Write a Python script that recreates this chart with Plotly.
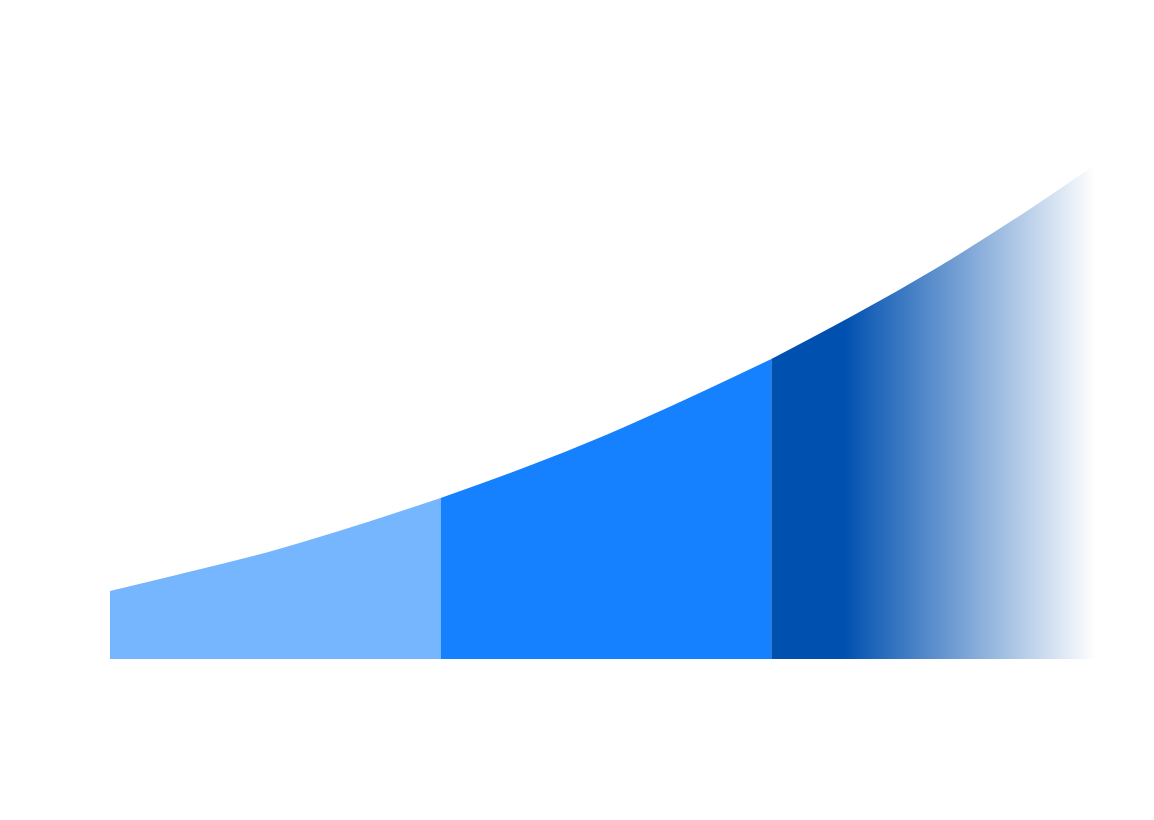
import plotly.graph_objs as go

# curve, x in segment units, height in px-like units
x_vals = [0, 0.25, 0.5, 0.75, 1.0, 1.25, 1.5, 1.75, 2.0, 2.25, 2.5, 2.75, 3.0]
y_vals = [68, 88, 109, 134, 161, 191, 224, 261, 300, 344, 391, 443, 499]

seg_bounds = [(0, 1.0), (1.0, 2.0), (2.0, 3.0)]
seg_colors = ['#76B6FF', '#1681FF', '#0050B0']

data = []
for i, (lo, hi) in enumerate(seg_bounds):
    xs = [x for x in x_vals if lo <= x <= hi]
    ys = [y for x, y in zip(x_vals, y_vals) if lo <= x <= hi]
    trace = dict(x=xs, y=ys, mode='lines', fill='tozeroy',
                 line=dict(width=0, shape='spline', smoothing=1.0),
                 hoverinfo='skip', showlegend=False)
    if i < 2:
        trace['fillcolor'] = seg_colors[i]
    else:
        trace['fillgradient'] = dict(type='horizontal',
                                     colorscale=[[0, '#0050B0'], [0.22, '#0050B0'],
                                                 [0.98, '#FFFFFF'], [1, '#FFFFFF']])
    data.append(go.Scatter(**trace))

layout = go.Layout(width=1154, height=820,
                   margin=dict(l=102, r=60, t=51, b=169),
                   paper_bgcolor='white', plot_bgcolor='white',
                   xaxis=dict(range=[0, 3], visible=False, fixedrange=True),
                   yaxis=dict(range=[0, 600], visible=False, fixedrange=True),
                   hovermode=False)
fig = go.Figure(data, layout)
fig.write_html("out.html", config=dict(displayModeBar=False))
